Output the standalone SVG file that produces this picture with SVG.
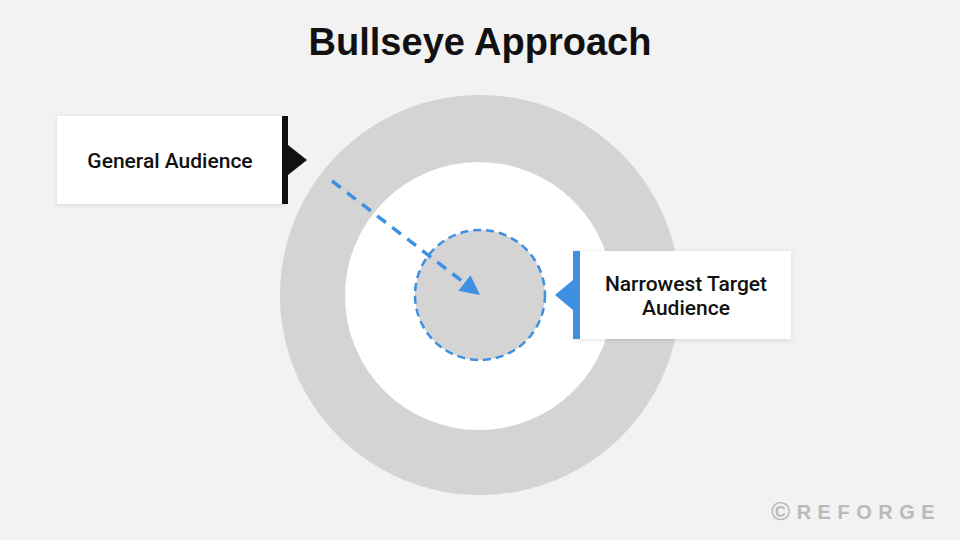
<svg xmlns="http://www.w3.org/2000/svg" width="960" height="540" viewBox="0 0 960 540">
  <defs>
    <style>
      .lbl { font-family: Roboto, "Liberation Sans", Arial, sans-serif; font-weight: 500; font-size: 21px; fill: #111; text-anchor: middle; }
      .title { font-family: "Liberation Sans", Arial, sans-serif; font-weight: bold; font-size: 38px; fill: #111; text-anchor: middle; }
      .box { fill: #ffffff; filter: url(#sh); }
      .blue { fill: #3f8fe3; }
    </style>
    <filter id="sh" x="-10%" y="-20%" width="120%" height="140%">
      <feDropShadow dx="0" dy="1" stdDeviation="2" flood-color="#000" flood-opacity="0.12"/>
    </filter>
    <marker id="ah" viewBox="0 0 10 10" refX="10" refY="5" markerWidth="6" markerHeight="5.6" orient="auto" markerUnits="strokeWidth">
      <path d="M0,0 L10,5 L0,10 Z" fill="#3f8fe3"/>
    </marker>
  </defs>
  <rect width="960" height="540" fill="#f2f2f2"/>
  <text class="title" x="480" y="55">Bullseye Approach</text>

  <g id="target">
    <circle cx="480" cy="295" r="200" fill="#d4d4d4"/>
    <circle cx="479" cy="296" r="134" fill="#ffffff"/>
    <circle cx="480" cy="295" r="65" fill="#d4d4d4" stroke="#3f8fe3" stroke-width="2.5" stroke-dasharray="8 5"/>
  </g>

  <g id="connectors">
    <line x1="332" y1="181" x2="480" y2="295" stroke="#3f8fe3" stroke-width="3.5" stroke-dasharray="11 8" marker-end="url(#ah)"/>
  </g>

  <g id="general-audience">
    <rect class="box" x="57" y="116" width="228" height="88"/>
    <rect x="282" y="116" width="6" height="88" fill="#111"/>
    <path d="M288,145 L307,160 L288,175 Z" fill="#111"/>
    <text class="lbl" x="170" y="168">General Audience</text>
  </g>

  <g id="narrowest-target">
    <rect class="box" x="575" y="251" width="216" height="88"/>
    <rect x="573" y="251" width="7" height="88" class="blue"/>
    <path d="M573,280 L555,295 L573,310 Z" class="blue"/>
    <text class="lbl" x="686" y="291">Narrowest Target</text>
    <text class="lbl" x="686" y="315">Audience</text>
  </g>

  <text x="771" y="519" font-family="'Liberation Sans', Arial, sans-serif" font-size="20" font-weight="bold" fill="#bababa" letter-spacing="6.5"><tspan font-size="26" dy="1">©</tspan><tspan dy="-1">REFORGE</tspan></text>
</svg>
